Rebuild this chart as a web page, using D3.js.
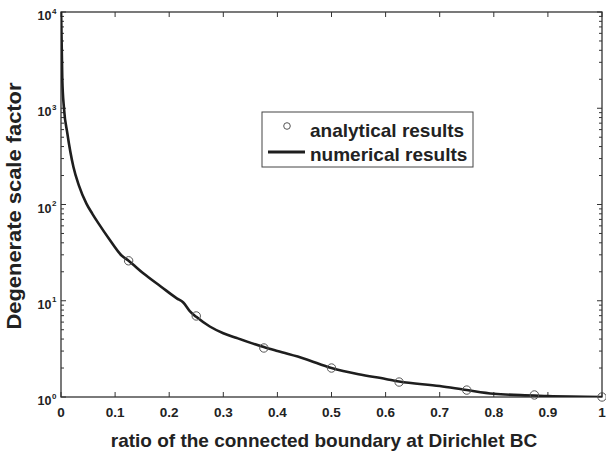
<!DOCTYPE html>
<html>
<head>
<meta charset="utf-8">
<script src="https://cdn.jsdelivr.net/npm/d3@7"></script>
<style>
body { margin: 0; background: #fff; }
text { font-family: "Liberation Sans", Arial, sans-serif; font-weight: bold; fill: #222; }
</style>
</head>
<body>
<script>
var width = 606;
var height = 465;

// analytical results (circles)
var anaX = [0.125, 0.25, 0.375, 0.5, 0.625, 0.75, 0.875, 1];
var anaY = [26, 6.95, 3.23, 2.0, 1.43, 1.18, 1.05, 1.0];

// numerical results (line)
var numX = [0.0002, 0.0024, 0.0055, 0.0117, 0.023, 0.033, 0.047, 0.058, 0.069, 0.09, 0.112, 0.125, 0.152, 0.185, 0.214, 0.226, 0.238, 0.25, 0.275, 0.3, 0.325, 0.375, 0.4, 0.45, 0.5, 0.55, 0.6, 0.625, 0.7, 0.75, 0.8, 0.875, 0.9, 1];
var numY = [10000, 2000, 1000, 550, 245, 158, 102, 80, 64, 43, 29.5, 26, 19.3, 14, 10.6, 9.6, 7.8, 6.8, 5.4, 4.6, 4.1, 3.3, 3.0, 2.5, 2.0, 1.72, 1.54, 1.45, 1.30, 1.18, 1.08, 1.035, 1.02, 1.0];

var xTicks = [0, 0.1, 0.2, 0.3, 0.4, 0.5, 0.6, 0.7, 0.8, 0.9, 1];
var xTickLabels = ["0", "0.1", "0.2", "0.3", "0.4", "0.5", "0.6", "0.7", "0.8", "0.9", "1"];
var yDecades = [0, 1, 2, 3, 4];

var plotL = 61, plotR = 602, plotT = 12, plotB = 397;

var canvas = d3.select("body")
	.append("svg")
	.attr("width", width)
	.attr("height", height);

var x = d3.scaleLinear().domain([0, 1]).range([plotL, plotR]);
var y = d3.scaleLog().domain([1, 10000]).range([plotB, plotT]);

canvas.append("defs").append("clipPath").attr("id", "clip")
	.append("rect").attr("x", plotL).attr("y", plotT)
	.attr("width", plotR - plotL).attr("height", plotB - plotT);

// ticks, inside the box
var g = canvas.append("g").attr("stroke", "#333").attr("stroke-width", 1);
xTicks.forEach(function(t){
	g.append("line").attr("x1", x(t)).attr("x2", x(t)).attr("y1", plotB).attr("y2", plotB - 5);
	g.append("line").attr("x1", x(t)).attr("x2", x(t)).attr("y1", plotT).attr("y2", plotT + 5);
});
yDecades.forEach(function(d){
	var v = Math.pow(10, d);
	g.append("line").attr("x1", plotL).attr("x2", plotL + 5).attr("y1", y(v)).attr("y2", y(v));
	g.append("line").attr("x1", plotR).attr("x2", plotR - 5).attr("y1", y(v)).attr("y2", y(v));
	if (d < 4) {
		for (var k = 2; k < 10; k++){
			g.append("line").attr("x1", plotL).attr("x2", plotL + 3).attr("y1", y(k * v)).attr("y2", y(k * v));
			g.append("line").attr("x1", plotR).attr("x2", plotR - 3).attr("y1", y(k * v)).attr("y2", y(k * v));
		}
	}
});

// box
canvas.append("rect")
	.attr("x", plotL).attr("y", plotT)
	.attr("width", plotR - plotL).attr("height", plotB - plotT)
	.attr("fill", "none").attr("stroke", "#333").attr("stroke-width", 1.3);

// x tick labels
canvas.selectAll(".xlab")
	.data(xTicks)
	.enter()
		.append("text")
		.attr("x", function(d){ return x(d); })
		.attr("y", 417)
		.attr("text-anchor", "middle")
		.style("font-size", "13.5px")
		.text(function(d, i){ return xTickLabels[i]; });

// y tick labels 10^n
yDecades.forEach(function(d){
	canvas.append("text")
		.attr("x", 51.5)
		.attr("y", y(Math.pow(10, d)) + 8)
		.attr("text-anchor", "end")
		.style("font-size", "12.5px")
		.text("10");
	canvas.append("text")
		.attr("x", 52)
		.attr("y", y(Math.pow(10, d)) + 1.5)
		.style("font-size", "8px")
		.text(d);
});

// numerical line
var line = d3.line()
	.x(function(d){ return x(d[0]); })
	.y(function(d){ return y(d[1]); })
	.curve(d3.curveMonotoneX);

canvas.append("path")
	.datum(numX.map(function(v, i){ return [v, numY[i]]; }))
	.attr("clip-path", "url(#clip)")
	.attr("d", line)
	.attr("fill", "none")
	.attr("stroke", "#1e1e1e")
	.attr("stroke-width", 2.6);

// analytical circles
canvas.selectAll(".ana")
	.data(anaX)
	.enter()
		.append("circle")
		.attr("cx", function(d){ return x(d); })
		.attr("cy", function(d, i){ return y(anaY[i]); })
		.attr("r", 4.2)
		.attr("fill", "none")
		.attr("stroke", "#555")
		.attr("stroke-width", 1);

// legend
var lg = canvas.append("g");
lg.append("rect")
	.attr("x", 262).attr("y", 112)
	.attr("width", 211).attr("height", 55)
	.attr("fill", "#fff").attr("stroke", "#444").attr("stroke-width", 1);
lg.append("circle")
	.attr("cx", 287).attr("cy", 126).attr("r", 3.3)
	.attr("fill", "none").attr("stroke", "#555").attr("stroke-width", 1);
lg.append("line")
	.attr("x1", 268).attr("x2", 305).attr("y1", 152).attr("y2", 152)
	.attr("stroke", "#1e1e1e").attr("stroke-width", 2.8);
lg.append("text").attr("x", 310).attr("y", 137).style("font-size", "19px").text("analytical results");
lg.append("text").attr("x", 310).attr("y", 161).style("font-size", "19px").text("numerical results");

// axis titles
canvas.append("text")
	.attr("transform", "translate(21,206) rotate(-90)")
	.attr("text-anchor", "middle")
	.attr("textLength", 247)
	.attr("lengthAdjust", "spacingAndGlyphs")
	.style("font-size", "20px")
	.text("Degenerate scale factor");
canvas.append("text")
	.attr("x", 324).attr("y", 447)
	.attr("text-anchor", "middle")
	.style("font-size", "19px")
	.text("ratio of the connected boundary at Dirichlet BC");
</script>
</body>
</html>
